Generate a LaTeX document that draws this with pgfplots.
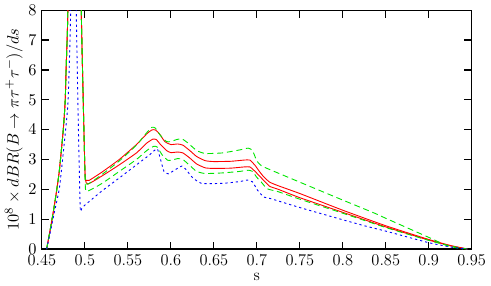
\documentclass[border=0pt]{standalone}
\usepackage{pgfplots}
\pgfplotsset{compat=1.18}
\definecolor{gred}{RGB}{255,0,0}
\definecolor{ggreen}{RGB}{0,230,0}
\definecolor{gblue}{RGB}{0,0,255}
\begin{document}
\begin{tikzpicture}
\begin{axis}[
  scale only axis,
  width=288pt, height=160pt,
  xmin=0.45, xmax=0.95, ymin=0, ymax=8,
  xtick={0.45,0.5,0.55,0.6,0.65,0.7,0.75,0.8,0.85,0.9,0.95},
  xticklabels={0.45,0.5,0.55,0.6,0.65,0.7,0.75,0.8,0.85,0.9,0.95},
  ytick={0,1,2,3,4,5,6,7,8},
  tick pos=both, tick align=inside,
  major tick length=5pt,
  axis line style={line width=0.8pt},
  every tick/.style={line width=0.8pt,black},
  tick label style={font=\fontsize{11}{13}\selectfont},
  label style={font=\fontsize{11}{13}\selectfont},
  xlabel={s},
  ylabel={$10^8\times dBR(B\to\pi\tau^+\tau^-)/ds$},
  xlabel style={yshift=2pt},
  ylabel style={yshift=-3pt},
  clip=true,
]
% red upper
\addplot[gred, line width=0.6pt, smooth, tension=0.3] coordinates {
(0.4555,0) (0.46,0.7) (0.465,1.55) (0.47,2.55) (0.4748,3.97) (0.4771,4.96) (0.4782,6.06) (0.480,7.72) (0.482,12)
(0.486,30) (0.491,30) (0.4945,12) (0.4958,8) (0.498,5.1) (0.5003,2.45) (0.503,2.3) (0.505,2.30)
(0.52,2.58) (0.54,3.0) (0.56,3.5) (0.572,3.86) (0.578,3.99) (0.582,3.99) (0.587,3.85) (0.593,3.6) (0.60,3.5)
(0.608,3.52) (0.614,3.48) (0.622,3.3) (0.63,3.1) (0.64,2.96) (0.65,2.93) (0.67,2.94) (0.685,2.98) (0.692,2.98)
(0.698,2.8) (0.703,2.6) (0.708,2.42) (0.715,2.24) (0.725,2.12) (0.75,1.86) (0.80,1.3) (0.85,0.78) (0.90,0.32)
(0.925,0.12) (0.945,0)
};
% red lower
\addplot[gred, line width=0.6pt, smooth, tension=0.3] coordinates {
(0.4555,0) (0.46,0.7) (0.465,1.55) (0.47,2.55) (0.4748,3.97) (0.4771,4.96) (0.4782,6.06) (0.480,7.72) (0.482,12)
(0.486,30) (0.491,30) (0.4945,12) (0.4958,8) (0.498,5.1) (0.5003,2.45) (0.5035,2.18)
(0.52,2.45) (0.54,2.82) (0.56,3.22) (0.572,3.55) (0.579,3.68) (0.583,3.67) (0.588,3.5) (0.595,3.3) (0.60,3.23)
(0.608,3.25) (0.614,3.22) (0.622,3.05) (0.63,2.85) (0.64,2.72) (0.65,2.70) (0.67,2.71) (0.685,2.75) (0.692,2.75)
(0.698,2.6) (0.703,2.45) (0.708,2.3) (0.715,2.1) (0.725,2.0) (0.75,1.72) (0.80,1.23) (0.85,0.74) (0.90,0.3)
(0.925,0.11) (0.945,0)
};
% green upper
\addplot[ggreen, line width=0.6pt, dash pattern=on 4pt off 2.5pt, smooth, tension=0.3] coordinates {
(0.4555,0) (0.46,0.7) (0.465,1.55) (0.47,2.55) (0.4748,3.97) (0.4771,4.96) (0.4782,6.06) (0.480,7.72) (0.482,12)
(0.486,30) (0.491,30) (0.4945,12) (0.4958,8) (0.498,5.1) (0.5003,2.4) (0.503,2.17)
(0.52,2.5) (0.54,2.95) (0.56,3.48) (0.572,3.9) (0.578,4.08) (0.582,4.05) (0.588,3.8) (0.595,3.6) (0.60,3.6)
(0.607,3.67) (0.613,3.69) (0.62,3.55) (0.63,3.3) (0.64,3.2) (0.66,3.22) (0.68,3.32) (0.69,3.38) (0.695,3.3)
(0.70,2.95) (0.705,2.8) (0.712,2.70) (0.75,2.24) (0.80,1.64) (0.8379,1.19) (0.85,1.03) (0.90,0.39)
(0.9217,0.11) (0.94,0)
};
% green lower
\addplot[ggreen, line width=0.6pt, dash pattern=on 4pt off 2.5pt, smooth, tension=0.3] coordinates {
(0.4555,0) (0.46,0.7) (0.465,1.55) (0.47,2.55) (0.4748,3.97) (0.4771,4.96) (0.4782,6.06) (0.480,7.72) (0.482,12)
(0.486,30) (0.491,30) (0.4945,12) (0.4958,8) (0.498,5.0) (0.5003,2.3) (0.502,1.93)
(0.52,2.2) (0.54,2.6) (0.56,3.0) (0.572,3.3) (0.580,3.44) (0.584,3.42) (0.59,3.15) (0.596,2.98) (0.60,2.97)
(0.608,3.03) (0.614,3.0) (0.622,2.8) (0.63,2.6) (0.64,2.53) (0.66,2.55) (0.68,2.6) (0.69,2.64) (0.695,2.6)
(0.70,2.4) (0.705,2.25) (0.712,2.02) (0.725,1.92) (0.75,1.67) (0.80,1.2) (0.85,0.72) (0.90,0.29)
(0.925,0.1) (0.945,0)
};
% blue
\addplot[gblue, line width=0.6pt, dash pattern=on 1.5pt off 2pt, smooth, tension=0.3] coordinates {
(0.4555,0) (0.46,0.6) (0.465,1.3) (0.4706,2.09) (0.4775,3.97) (0.4805,5.0) (0.4835,8) (0.4855,15)
(0.4875,30) (0.4885,30) (0.4895,12) (0.490,8) (0.4925,4) (0.4946,1.35) (0.4966,1.38)
(0.50,1.47) (0.52,1.95) (0.54,2.38) (0.56,2.82) (0.575,3.15) (0.584,3.36) (0.588,3.0) (0.592,2.6) (0.597,2.52)
(0.603,2.62) (0.6128,2.78) (0.618,2.65) (0.625,2.4) (0.6357,2.2) (0.66,2.2) (0.68,2.26) (0.689,2.31) (0.695,2.25)
(0.7006,1.98) (0.7082,1.74) (0.716,1.69) (0.75,1.39) (0.80,0.98) (0.8264,0.77) (0.85,0.6) (0.899,0.22)
(0.925,0.07) (0.945,0)
};
\end{axis}
\end{tikzpicture}
\end{document}
